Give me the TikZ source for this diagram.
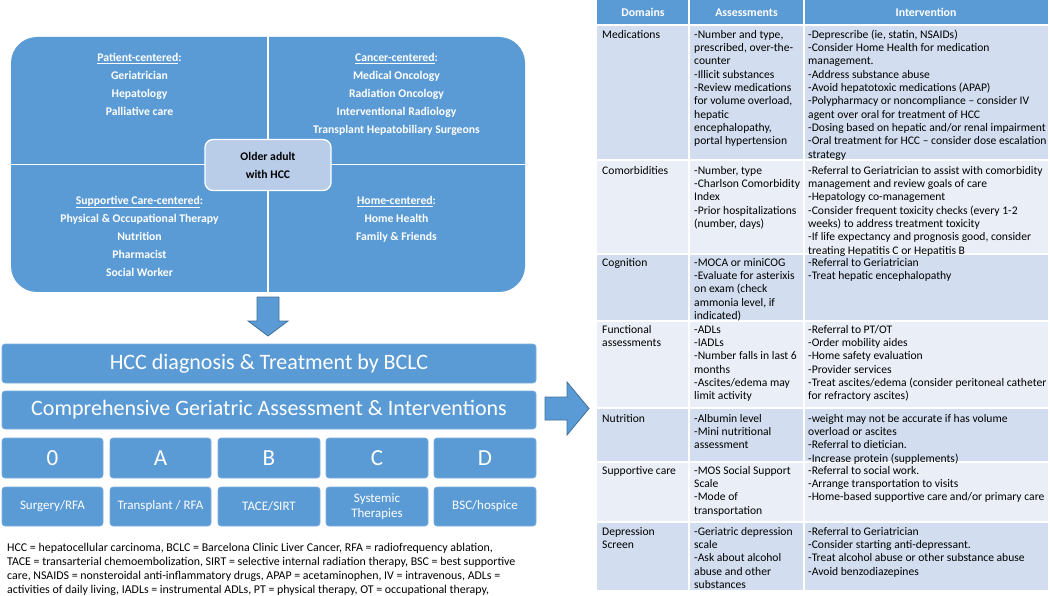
\documentclass[tikz,border=0pt]{standalone}
\usepackage{fontspec}
\setmainfont{Carlito}
\definecolor{accblue}{HTML}{5B9BD5}
\definecolor{accdark}{HTML}{41719C}
\definecolor{rowdark}{HTML}{D2DEEF}
\definecolor{rowlight}{HTML}{EAEFF7}
\definecolor{centerfill}{HTML}{B9CDE9}
\tikzset{
  cell/.style={anchor=north west, inner sep=0pt, align=left, font=\fontsize{11.6}{13.33}\selectfont},
  hdr/.style={inner sep=0pt, font=\fontsize{11.8}{13.33}\selectfont\bfseries, text=white},
  quad/.style={anchor=north, inner sep=0pt, align=center, text=white, font=\fontsize{11.7}{18.1}\selectfont\bfseries},
  bluebox/.style={fill=accblue, draw=accblue!80!white, line width=0.6pt, rounded corners=3pt, inner sep=0pt, text=white},
  smalltxt/.style={align=center, font=\fontsize{13}{14.3}\selectfont},
  blockarrow/.style={fill=accblue, draw=accdark, line width=0.8pt},
  sep/.style={white, line width=1.6pt},
}
\begin{document}
\begin{tikzpicture}[x=1pt,y=-1pt]
\useasboundingbox (0,0) rectangle (1050,596);
\fill[white] (0,0) rectangle (1050,596);

% ---------- team quadrant diagram ----------
\node[fill=accblue, rounded corners=26pt, minimum width=514pt, minimum height=255pt, inner sep=0pt] (team) at (268,164.5) {};
\draw[sep] (team.north) -- (team.south);
\draw[sep] (team.west) -- (team.east);

\node[quad] (patient) at (139.5,48.5) {\strut\underline{Patient-centered}:\\Geriatrician\\Hepatology\\Palliative care};
\node[quad] (cancer) at (396.5,48.5) {\strut\underline{Cancer-centered}:\\Medical Oncology\\Radiation Oncology\\Interventional Radiology\\Transplant Hepatobiliary Surgeons};
\node[quad] (supportive) at (139.5,191.5) {\strut\underline{Supportive Care-centered}:\\Physical \& Occupational Therapy\\Nutrition\\Pharmacist\\Social Worker};
\node[quad] (home) at (396.5,191.5) {\strut\underline{Home-centered}:\\Home Health\\Family \& Friends};

\node[draw=white, line width=1.3pt, fill=centerfill, rounded corners=8pt, minimum width=126pt, minimum height=51pt, inner sep=0pt, align=center, font=\fontsize{11.7}{18}\selectfont\bfseries] (older) at (268,165) {Older adult\\with HCC};

% down arrow
\draw[blockarrow] (257,297) -- (279,297) -- (279,321) -- (288,321) -- (268,336) -- (248,321) -- (257,321) -- cycle;

% ---------- BCLC boxes ----------
\node[bluebox, minimum width=534pt, minimum height=39pt] (hcc) at (269,363.5) {\fontsize{22}{26}\selectfont HCC diagnosis \& Treatment by BCLC};
\node[bluebox, minimum width=534pt, minimum height=38pt] (cga) at (269,410) {\fontsize{22}{26}\selectfont Comprehensive Geriatric Assessment \& Interventions};

\node[bluebox, minimum width=101pt, minimum height=40pt] (s0) at (52.5,458) {\fontsize{23}{26}\selectfont 0};
\node[bluebox, minimum width=101pt, minimum height=40pt] (sA) at (160.5,458) {\fontsize{23}{26}\selectfont A};
\node[bluebox, minimum width=102pt, minimum height=40pt] (sB) at (269,458) {\fontsize{23}{26}\selectfont B};
\node[bluebox, minimum width=102pt, minimum height=40pt] (sC) at (377,458) {\fontsize{23}{26}\selectfont C};
\node[bluebox, minimum width=102pt, minimum height=40pt] (sD) at (485,458) {\fontsize{23}{26}\selectfont D};

\node[bluebox, smalltxt, minimum width=101pt, minimum height=39pt] (t0) at (52.5,506.5) {Surgery/RFA};
\node[bluebox, smalltxt, minimum width=101pt, minimum height=39pt] (tA) at (160.5,506.5) {Transplant / RFA};
\node[bluebox, smalltxt, minimum width=102pt, minimum height=39pt] (tB) at (269,506.5) {TACE/SIRT};
\node[bluebox, smalltxt, minimum width=102pt, minimum height=39pt] (tC) at (377,506.5) {Systemic\\Therapies};
\node[bluebox, smalltxt, minimum width=102pt, minimum height=39pt] (tD) at (485,506.5) {BSC/hospice};

\node[anchor=north west, inner sep=0pt, align=left, font=\fontsize{11.9}{14.2}\selectfont] (foot) at (7,541) {\strut HCC = hepatocellular carcinoma, BCLC = Barcelona Clinic Liver Cancer, RFA = radiofrequency ablation,\\
TACE = transarterial chemoembolization, SIRT = selective internal radiation therapy, BSC = best supportive\\
care, NSAIDS = nonsteroidal anti-inflammatory drugs, APAP = acetaminophen, IV = intravenous, ADLs =\\
activities of daily living, IADLs = instrumental ADLs, PT = physical therapy, OT = occupational therapy,};

% right arrow
\draw[blockarrow] (545,397) -- (567,397) -- (567,382) -- (589,408.5) -- (567,435) -- (567,420) -- (545,420) -- cycle;

% ---------- table ----------
\fill[accblue] (597,0) rectangle (1048,25);
\fill[rowdark] (597,25) rectangle (1048,160);
\fill[rowlight] (597,160) rectangle (1048,254);
\fill[rowdark] (597,254) rectangle (1048,321);
\fill[rowlight] (597,321) rectangle (1048,408);
\fill[rowdark] (597,408) rectangle (1048,462);
\fill[rowlight] (597,462) rectangle (1048,522);
\fill[rowdark] (597,522) rectangle (1048,590);
\foreach \yy in {25,160,254,321,408,462,522} \draw[sep] (597,\yy) -- (1048,\yy);
\foreach \xx in {689,804} \draw[sep] (\xx,0) -- (\xx,590);

\node[hdr] (hdom) at (643,12.5) {Domains};
\node[hdr] (hass) at (746.5,12.5) {Assessments};
\node[hdr] (hint) at (926,12.5) {Intervention};

% Medications
\node[cell] (d1) at (602,28.7) {\strut Medications};
\node[cell] (a1) at (694,28.7) {\strut -Number and type,\\prescribed, over-the-\\counter\\-Illicit substances\\-Review medications\\for volume overload,\\hepatic\\encephalopathy,\\portal hypertension};
\node[cell] (i1) at (808,28.7) {\strut -Deprescribe (ie, statin, NSAIDs)\\-Consider Home Health for medication\\management.\\-Address substance abuse\\-Avoid hepatotoxic medications (APAP)\\-Polypharmacy or noncompliance -- consider IV\\agent over oral for treatment of HCC\\-Dosing based on hepatic and/or renal impairment\\-Oral treatment for HCC -- consider dose escalation\\strategy};

% Comorbidities
\node[cell] (d2) at (602,164.7) {\strut Comorbidities};
\node[cell] (a2) at (694,164.7) {\strut -Number, type\\-Charlson Comorbidity\\Index\\-Prior hospitalizations\\(number, days)};
\node[cell] (i2) at (808,164.7) {\strut -Referral to Geriatrician to assist with comorbidity\\management and review goals of care\\-Hepatology co-management\\-Consider frequent toxicity checks (every 1-2\\weeks) to address treatment toxicity\\-If life expectancy and prognosis good, consider\\treating Hepatitis C or Hepatitis B};

% Cognition
\node[cell] (d3) at (602,256.7) {\strut Cognition};
\node[cell] (a3) at (694,256.7) {\strut -MOCA or miniCOG\\-Evaluate for asterixis\\on exam (check\\ammonia level, if\\indicated)};
\node[cell] (i3) at (808,256.7) {\strut -Referral to Geriatrician\\-Treat hepatic encephalopathy};

% Functional
\node[cell] (d4) at (602,323.7) {\strut Functional\\assessments};
\node[cell] (a4) at (694,323.7) {\strut -ADLs\\-IADLs\\-Number falls in last 6\\months\\-Ascites/edema may\\limit activity};
\node[cell] (i4) at (808,323.7) {\strut -Referral to PT/OT\\-Order mobility aides\\-Home safety evaluation\\-Provider services\\-Treat ascites/edema (consider peritoneal catheter\\for refractory ascites)};

% Nutrition
\node[cell] (d5) at (602,412.7) {\strut Nutrition};
\node[cell] (a5) at (694,412.7) {\strut -Albumin level\\-Mini nutritional\\assessment};
\node[cell] (i5) at (808,412.7) {\strut -weight may not be accurate if has volume\\overload or ascites\\-Referral to dietician.\\-Increase protein (supplements)};

% Supportive care
\node[cell] (d6) at (602,464.7) {\strut Supportive care};
\node[cell] (a6) at (694,464.7) {\strut -MOS Social Support\\Scale\\-Mode of\\transportation};
\node[cell] (i6) at (808,464.7) {\strut -Referral to social work.\\-Arrange transportation to visits\\-Home-based supportive care and/or primary care};

% Depression
\node[cell] (d7) at (602,525.7) {\strut Depression\\Screen};
\node[cell] (a7) at (694,525.7) {\strut -Geriatric depression\\scale\\-Ask about alcohol\\abuse and other\\substances};
\node[cell] (i7) at (808,525.7) {\strut -Referral to Geriatrician\\-Consider starting anti-depressant.\\-Treat alcohol abuse or other substance abuse\\-Avoid benzodiazepines};

\end{tikzpicture}
\end{document}
